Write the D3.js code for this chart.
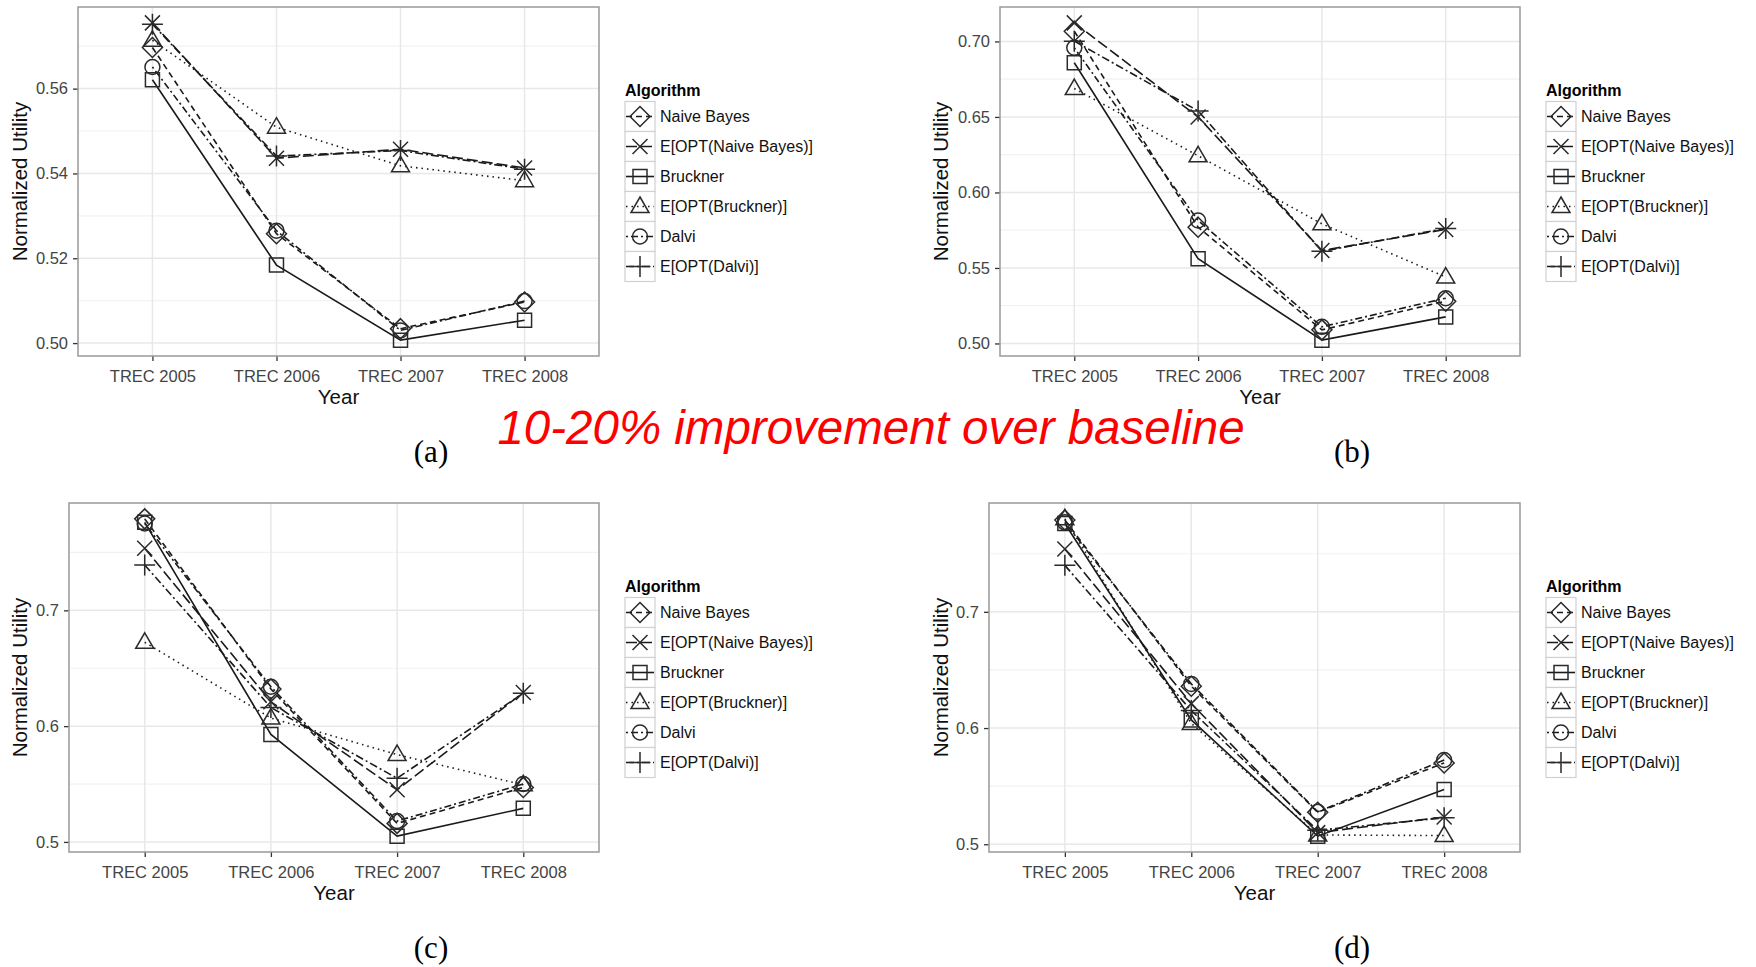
<!DOCTYPE html>
<html>
<head>
<meta charset="utf-8">
<script src="https://cdn.jsdelivr.net/npm/d3@7/dist/d3.min.js"></script>
<style>
  body { margin: 0; background: #fff; }
  text { font-family: "Liberation Sans", Arial, sans-serif; }
</style>
</head>
<body>
<div id="fig"></div>
<script>
var years = ["TREC 2005", "TREC 2006", "TREC 2007", "TREC 2008"];
var algorithms = ["Naive Bayes", "E[OPT(Naive Bayes)]", "Bruckner",
                  "E[OPT(Bruckner)]", "Dalvi", "E[OPT(Dalvi)]"];

// one row per algorithm (same order as above), one value per year
var panelA = [
    [0.5697, 0.5258, 0.5034, 0.5097],
    [0.5755, 0.5436, 0.5457, 0.5413],
    [0.5621, 0.5184, 0.5007, 0.5054],
    [0.5714, 0.5509, 0.5418, 0.5383],
    [0.5651, 0.5265, 0.5030, 0.5099],
    [0.5752, 0.5441, 0.5454, 0.5410]
];
var panelB = [
    [0.7068, 0.5770, 0.5090, 0.5280],
    [0.7123, 0.6500, 0.5616, 0.5755],
    [0.6859, 0.5561, 0.5022, 0.5176],
    [0.6688, 0.6243, 0.5792, 0.5440],
    [0.6958, 0.5814, 0.5110, 0.5300],
    [0.7002, 0.6540, 0.5610, 0.5762]
];
var panelC = [
    [0.7790, 0.6320, 0.5160, 0.5470],
    [0.7536, 0.6210, 0.5450, 0.6290],
    [0.7760, 0.5928, 0.5050, 0.5290],
    [0.6724, 0.6070, 0.5754, 0.5493],
    [0.7750, 0.6340, 0.5180, 0.5500],
    [0.7391, 0.6160, 0.5550, 0.6285]
];
var panelD = [
    [0.7790, 0.6360, 0.5275, 0.5700],
    [0.7541, 0.6210, 0.5100, 0.5235],
    [0.7760, 0.6070, 0.5070, 0.5472],
    [0.7800, 0.6040, 0.5080, 0.5075],
    [0.7770, 0.6380, 0.5280, 0.5725],
    [0.7400, 0.6150, 0.5120, 0.5228]
];

var ticksA = [0.50, 0.52, 0.54, 0.56];
var ticksB = [0.50, 0.55, 0.60, 0.65, 0.70];
var ticksCD = [0.5, 0.6, 0.7];

var headline = "10-20% improvement over baseline";

// marker + linetype for each algorithm
var shapeOf = ["diamond", "cross", "square", "triangle", "circle", "plus"];
var dashOf = ["6,4", "11,4", null, "1.5,4", "2,3,7,3", "8,3,2,3"];

var glyphs = {
    diamond: "M0,-10L10,0L0,10L-10,0Z",
    cross: "M-7.5,-7.5L7.5,7.5M-7.5,7.5L7.5,-7.5",
    square: "M-7,-7H7V7H-7Z",
    triangle: "M0,-9.5L9,6L-9,6Z",
    circle: "M7.5,0A7.5,7.5 0 1,1 -7.5,0A7.5,7.5 0 1,1 7.5,0Z",
    plus: "M-10.5,0H10.5M0,-10.5V10.5"
};

var W = 1756, H = 967;
var svg = d3.select("#fig").append("svg")
    .attr("width", W)
    .attr("height", H);

function drawPanel(ox, oy, values, ticks, fmt, left, tag) {
    var margin = { top: 7, left: left, right: 599, bottom: 356 };
    var width = margin.right - margin.left;
    var height = margin.bottom - margin.top;

    var g = svg.append("g")
        .attr("transform", "translate(" + ox + "," + oy + ")");

    var all = d3.merge(values);
    var ext = d3.extent(all);
    var pad = (ext[1] - ext[0]) * 0.05;

    var x = d3.scalePoint()
        .domain(years)
        .range([0, width])
        .padding(0.6);

    var y = d3.scaleLinear()
        .domain([ext[0] - pad, ext[1] + pad])
        .range([height, 0]);

    var plot = g.append("g")
        .attr("transform", "translate(" + margin.left + "," + margin.top + ")");

    // minor grid at midpoints between major ticks
    var step = ticks[1] - ticks[0];
    var minor = [];
    for (var i = -1; i < ticks.length; i++) {
        var m = ticks[0] + step * (i + 0.5);
        if (m > y.domain()[0] && m < y.domain()[1]) minor.push(m);
    }

    plot.selectAll(".minor")
        .data(minor)
        .enter().append("line")
        .attr("x1", 0).attr("x2", width)
        .attr("y1", d => y(d)).attr("y2", d => y(d))
        .style("stroke", "#f2f2f2")
        .style("stroke-width", 1.2);

    plot.selectAll(".major")
        .data(ticks)
        .enter().append("line")
        .attr("x1", 0).attr("x2", width)
        .attr("y1", d => y(d)).attr("y2", d => y(d))
        .style("stroke", "#e8e8e8")
        .style("stroke-width", 1.5);

    plot.selectAll(".vgrid")
        .data(years)
        .enter().append("line")
        .attr("x1", d => x(d)).attr("x2", d => x(d))
        .attr("y1", 0).attr("y2", height)
        .style("stroke", "#e8e8e8")
        .style("stroke-width", 1.5);

    // axes
    var xAxis = plot.append("g")
        .attr("transform", "translate(0," + height + ")")
        .call(d3.axisBottom(x).tickSize(5).tickPadding(9));

    var yAxis = plot.append("g")
        .call(d3.axisLeft(y).tickValues(ticks)
              .tickFormat(d3.format(fmt)).tickSize(5).tickPadding(5));

    [xAxis, yAxis].forEach(function(a) {
        a.select(".domain").remove();
        a.selectAll(".tick line").style("stroke", "#333").style("stroke-width", 1.3);
        a.selectAll(".tick text")
            .style("font-family", '"Liberation Sans", Arial, sans-serif')
            .style("font-size", "16.5px")
            .style("fill", "#444");
    });

    // series lines
    var line = d3.line()
        .x((d, i) => x(years[i]))
        .y(d => y(d));

    plot.selectAll(".series")
        .data(values)
        .enter().append("path")
        .attr("d", d => line(d))
        .style("fill", "none")
        .style("stroke", "#1a1a1a")
        .style("stroke-width", 1.6)
        .style("stroke-dasharray", (d, i) => dashOf[i]);

    // markers
    values.forEach(function(row, k) {
        plot.selectAll(".pt" + k)
            .data(row)
            .enter().append("path")
            .attr("transform", (d, i) => "translate(" + x(years[i]) + "," + y(d) + ")")
            .attr("d", glyphs[shapeOf[k]])
            .style("fill", "none")
            .style("stroke", "#2a2a2a")
            .style("stroke-width", 1.5);
    });

    // panel border
    plot.append("rect")
        .attr("width", width)
        .attr("height", height)
        .style("fill", "none")
        .style("stroke", "#999")
        .style("stroke-width", 1.5);

    // axis titles
    g.append("text")
        .attr("text-anchor", "middle")
        .attr("x", margin.left + width / 2)
        .attr("y", margin.bottom + 48)
        .style("font-size", "20.5px")
        .style("fill", "#111")
        .text("Year");

    g.append("text")
        .attr("text-anchor", "middle")
        .attr("transform", "translate(27," + (margin.top + height / 2) + ") rotate(-90)")
        .style("font-size", "20.5px")
        .style("fill", "#111")
        .text("Normalized Utility");

    // legend
    var mid = margin.top + height / 2;
    var legend = g.append("g")
        .attr("transform", "translate(" + (margin.right + 26) + "," + (mid - 100) + ")");

    legend.append("text")
        .attr("x", 0)
        .attr("y", 14)
        .style("font-size", "16px")
        .style("font-weight", "bold")
        .text("Algorithm");

    var keys = legend.selectAll(".key")
        .data(algorithms)
        .enter().append("g")
        .attr("transform", (d, i) => "translate(0," + (20 + i * 30) + ")");

    keys.append("rect")
        .attr("width", 30)
        .attr("height", 30)
        .style("fill", "#fff")
        .style("stroke", "#d0d0d0")
        .style("stroke-width", 1.2);

    keys.append("line")
        .attr("x1", 1).attr("x2", 29)
        .attr("y1", 15).attr("y2", 15)
        .style("stroke", "#1a1a1a")
        .style("stroke-width", 1.6)
        .style("stroke-dasharray", (d, i) => dashOf[i]);

    keys.append("path")
        .attr("transform", "translate(15,15)")
        .attr("d", (d, i) => glyphs[shapeOf[i]])
        .style("fill", "none")
        .style("stroke", "#2a2a2a")
        .style("stroke-width", 1.5);

    keys.append("text")
        .attr("x", 35)
        .attr("y", 15)
        .attr("dy", "0.35em")
        .style("font-size", "16px")
        .style("fill", "#111")
        .text(d => d);

    // sub-figure tag
    g.append("text")
        .attr("text-anchor", "middle")
        .attr("x", 431)
        .attr("y", 462)
        .style("font-family", '"Liberation Serif", "Times New Roman", serif')
        .style("font-size", "31px")
        .text(tag);
}

drawPanel(0, 0, panelA, ticksA, ".2f", 78, "(a)");
drawPanel(921, 0, panelB, ticksB, ".2f", 79, "(b)");
drawPanel(0, 496, panelC, ticksCD, ".1f", 69, "(c)");
drawPanel(921, 496, panelD, ticksCD, ".1f", 68, "(d)");

svg.append("text")
    .attr("text-anchor", "middle")
    .attr("x", 871)
    .attr("y", 444)
    .style("font-size", "47.5px")
    .style("font-style", "italic")
    .style("fill", "#ff0000")
    .text(headline);
</script>
</body>
</html>
